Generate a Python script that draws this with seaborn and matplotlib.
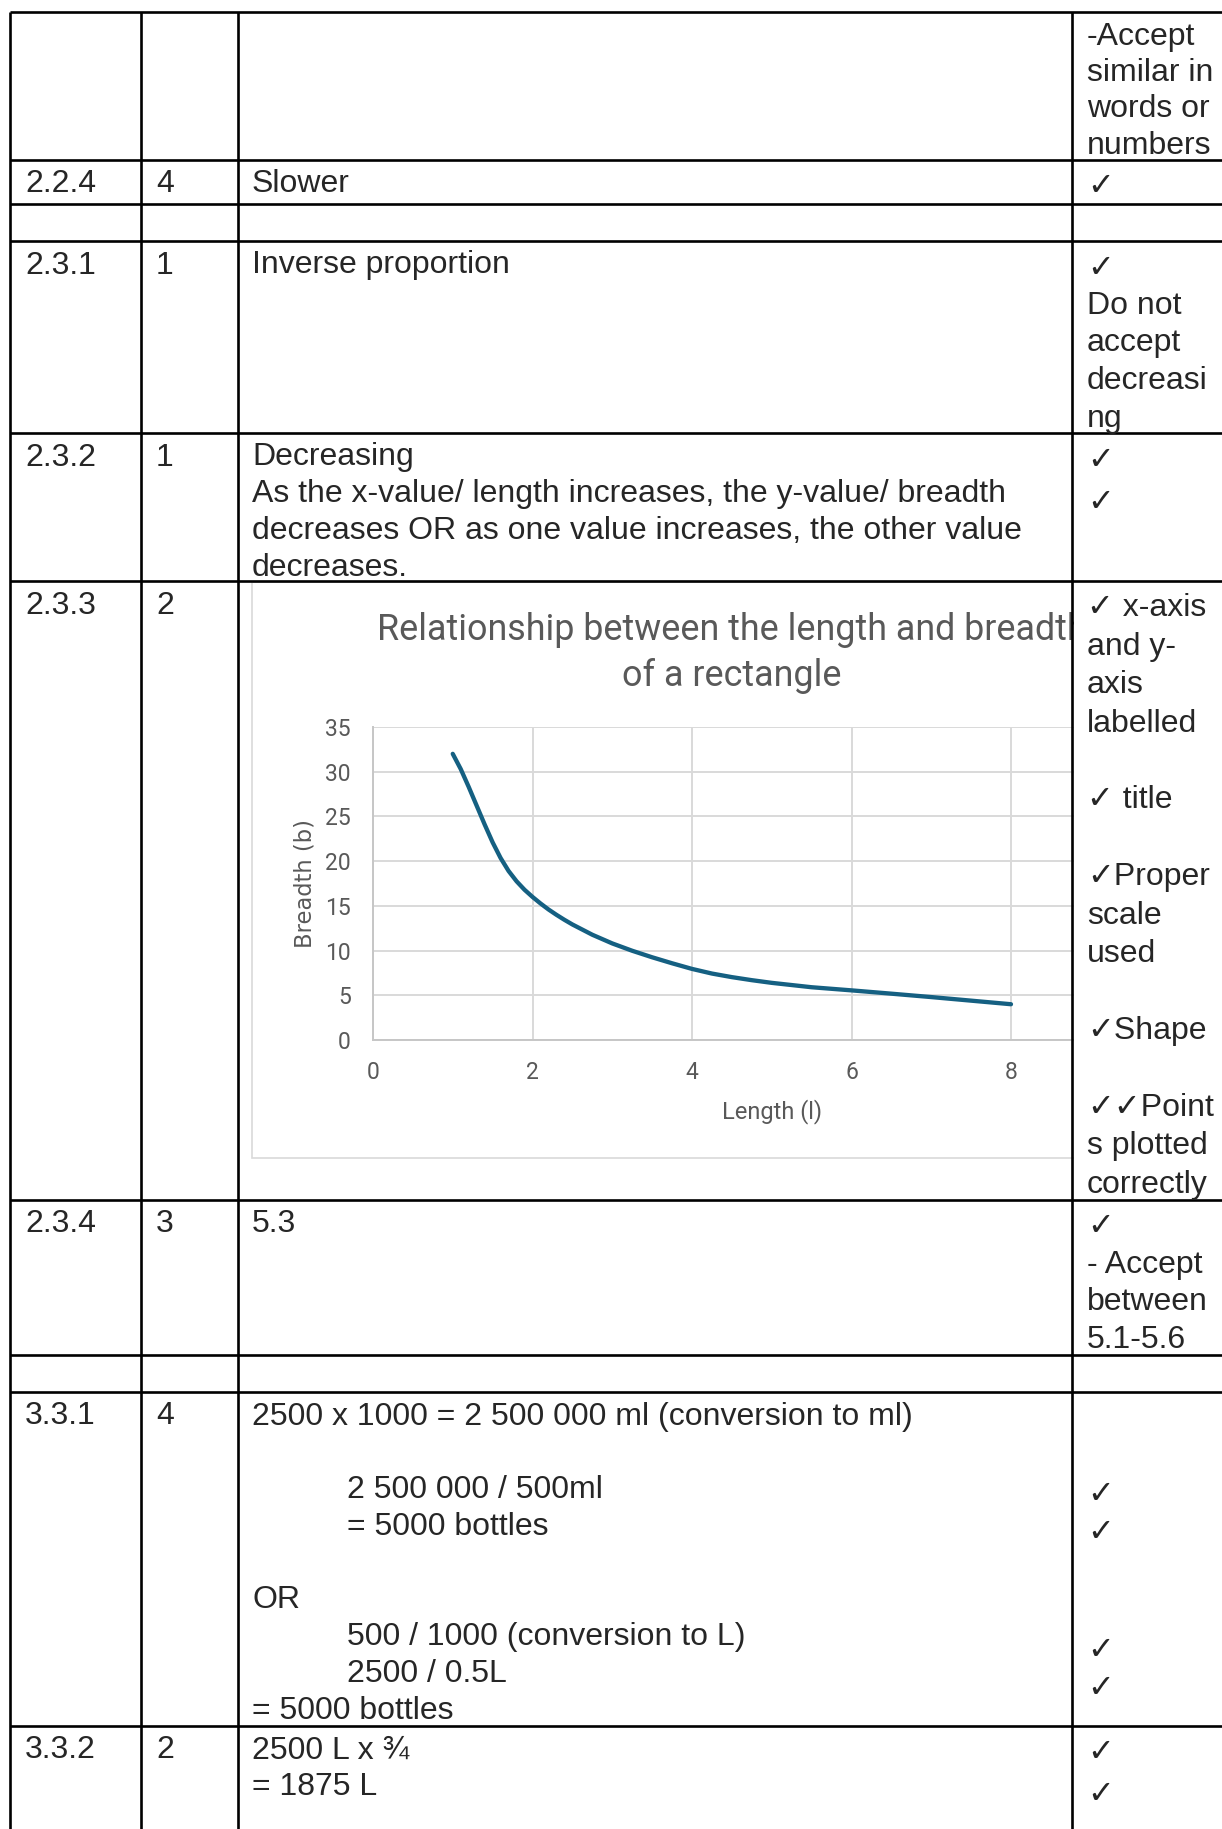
import matplotlib
matplotlib.use('Agg')
import matplotlib.pyplot as plt
from matplotlib.patches import Rectangle
import seaborn as sns
import pandas as pd

# curve: length (l) against breadth (b)
length = [1.0, 1.1, 1.2, 1.3, 1.4, 1.5, 1.6, 1.7, 1.8, 1.9, 2.0, 2.1, 2.2, 2.3, 2.4,
          2.5, 2.75, 3.0, 3.25, 3.5, 3.75, 4.0, 4.25, 4.5, 4.75, 5.0, 5.5, 6.0, 6.5,
          7.0, 7.5, 8.0]
breadth = [32.0, 30.3, 28.3, 26.2, 24.1, 22.1, 20.35, 18.9, 17.75, 16.8, 16.0, 15.27,
           14.6, 14.0, 13.44, 12.92, 11.77, 10.8, 9.98, 9.25, 8.58, 7.95, 7.43, 7.03,
           6.69, 6.39, 5.9, 5.55, 5.18, 4.8, 4.4, 4.0]
x_ticks = [0, 2, 4, 6, 8]
y_ticks = [0, 5, 10, 15, 20, 25, 30, 35]
title_lines = ['Relationship between the length and breadth', 'of a rectangle']
x_label = 'Length (l)'
y_label = 'Breadth (b)'

# memo table text, one entry per table row
question_no = ['', '2.2.4', '', '2.3.1', '2.3.2', '2.3.3', '2.3.4', '', '3.3.1', '3.3.2']
marks = ['', '4', '', '1', '1', '2', '3', '', '4', '2']
answers = [
    [],
    ['Slower'],
    [],
    ['Inverse proportion'],
    ['Decreasing',
     'As the x-value/ length increases, the y-value/ breadth',
     'decreases OR as one value increases, the other value',
     'decreases.'],
    [],
    ['5.3'],
    [],
    ['2500 x 1000 = 2 500 000 ml (conversion to ml)', '',
     '\t2 500 000 / 500ml', '\t= 5000 bottles', '', 'OR',
     '\t500 / 1000 (conversion to L)', '\t2500 / 0.5L', '= 5000 bottles'],
    ['2500 L x \u00be', '= 1875 L'],
]
comments = [
    ['-Accept', 'similar in', 'words or', 'numbers'],
    ['\u2713'],
    [],
    ['\u2713', 'Do not', 'accept', 'decreasi', 'ng'],
    ['\u2713', '\u2713'],
    ['\u2713 x-axis', 'and y-', 'axis', 'labelled', '', '\u2713 title', '',
     '\u2713Proper', 'scale', 'used', '', '\u2713Shape', '',
     '\u2713\u2713Point', 's plotted', 'correctly'],
    ['\u2713', '- Accept', 'between', '5.1-5.6'],
    [],
    ['', '', '\u2713', '\u2713', '', '', '\u2713', '\u2713'],
    ['\u2713', '\u2713'],
]

# layout of the page, in pixels from the top left corner
W, H = 1222, 1829
row_lines = [12, 160, 204, 241, 433, 581, 1200, 1355, 1392, 1726]
col_lines = [10, 141, 238, 1072]
col_text_x = [25, 156, 252, 1087]
indent_x = 347
text_pitch = 36.8
comment_pitch = [36.4, 37, 37, 37.5, 42, 38.4, 37.5, 37, 39, 42]
grey = '#595959'
table_font = ['Liberation Sans', 'DejaVu Sans']


def main():
    sns.set_theme(style='white')
    plt.rcParams['font.family'] = table_font

    fig = plt.figure(figsize=(W / 100, H / 100), dpi=100, facecolor='white')

    # chart axes, placed inside the 2.3.3 answer cell
    left, right, top, bottom = 373, 1170.5, 727, 1040
    ax = fig.add_axes([left / W, 1 - bottom / H, (right - left) / W, (bottom - top) / H])
    ax.set_zorder(1)
    data = pd.DataFrame({'length': length, 'breadth': breadth})
    sns.lineplot(data=data, x='length', y='breadth', sort=False, ax=ax,
                 color='#156082', linewidth=3.1, solid_capstyle='round',
                 solid_joinstyle='round')
    ax.set_xlim(0, 10)
    ax.set_ylim(0, 35)
    ax.set_xticks([0, 2, 4, 6, 8, 10])
    ax.set_xticklabels([str(t) for t in x_ticks] + [''])
    ax.set_yticks(y_ticks)
    ax.set_yticklabels([str(t) for t in y_ticks])
    ax.grid(True, color='#d9d9d9', linewidth=1.4)
    ax.set_axisbelow(True)
    for side in ['top', 'right']:
        ax.spines[side].set_visible(False)
    for side in ['left', 'bottom']:
        ax.spines[side].set_color('#c6c6c6')
        ax.spines[side].set_linewidth(1.4)
    ax.tick_params(length=0, labelcolor=grey, labelsize=16.5)
    ax.tick_params(axis='x', pad=15)
    ax.tick_params(axis='y', pad=16)
    for lab in ax.get_xticklabels() + ax.get_yticklabels():
        lab.set_family('Roboto')
    ax.set_xlabel(x_label, color=grey, fontsize=17, family='Roboto', labelpad=11)
    ax.set_ylabel(y_label, color=grey, fontsize=16.3, family='DejaVu Sans', labelpad=6)

    # page axes in pixel units, drawn over the chart
    page = fig.add_axes([0, 0, 1, 1])
    page.set_zorder(2)
    page.patch.set_alpha(0)
    page.set_xlim(0, W)
    page.set_ylim(H, 0)
    page.axis('off')

    # chart frame and title
    page.add_patch(Rectangle((252, 582), 960, 576, fill=False, edgecolor='#d9d9d9',
                             linewidth=1.2, zorder=1))
    for i, line in enumerate(title_lines):
        page.text(732, 626 + 46 * i, line, ha='center', va='center_baseline',
                  color=grey, fontsize=25.8, family='Roboto', zorder=1)
    # the chart runs past its cell: cover the overflow
    page.add_patch(Rectangle((1073.5, 582), W - 1073.5, 1200 - 582, facecolor='white',
                             edgecolor='none', zorder=2))

    # table grid
    page.hlines(row_lines, col_lines[0], W, color='black', linewidth=1.9, zorder=3)
    page.vlines(col_lines, row_lines[0], H, color='black', linewidth=1.9, zorder=3)

    # table text
    for r, top_y in enumerate(row_lines):
        y0 = top_y + 21
        for c, txt in enumerate([question_no[r], marks[r]]):
            if txt:
                page.text(col_text_x[c], y0, txt, ha='left', va='center_baseline',
                          fontsize=23, family=table_font, zorder=4)
        for i, line in enumerate(answers[r]):
            if not line:
                continue
            x = col_text_x[2]
            if line.startswith('\t'):
                x = indent_x
                line = line[1:]
            page.text(x, y0 + text_pitch * i, line, ha='left', va='center_baseline',
                      fontsize=23, family=table_font, zorder=4)
        # lines that open with a tick sit a little lower
        c0 = top_y + (21 if comments[r] and not comments[r][0].startswith('\u2713') else 24)
        for i, line in enumerate(comments[r]):
            if not line:
                continue
            page.text(col_text_x[3], c0 + comment_pitch[r] * i, line, ha='left',
                      va='center_baseline', fontsize=23, family=table_font, zorder=4)

    fig.savefig('out.png', dpi=100, facecolor='white')


if __name__ == '__main__':
    main()
